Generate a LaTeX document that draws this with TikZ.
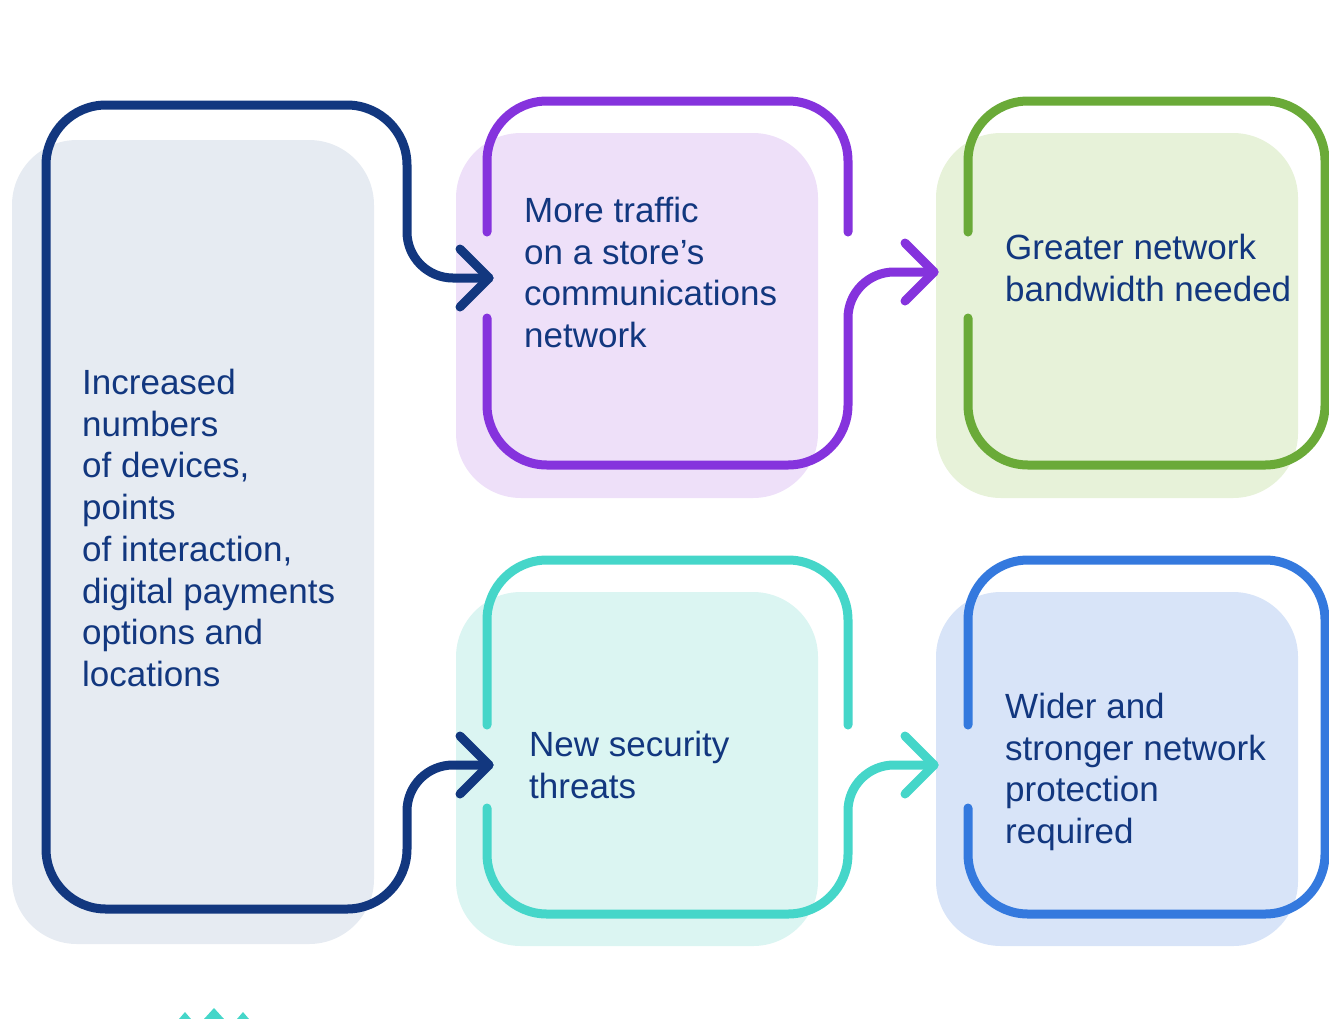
\documentclass[tikz,border=0pt]{standalone}
\usepackage{fontspec}
\setmainfont{Liberation Sans}
\definecolor{navy}{HTML}{12377F}
\definecolor{slatefill}{HTML}{E6EBF2}
\definecolor{purpleline}{HTML}{8533DD}
\definecolor{purplefill}{HTML}{EEE0F9}
\definecolor{greenline}{HTML}{6AAA38}
\definecolor{greenfill}{HTML}{E7F2D9}
\definecolor{tealline}{HTML}{45D6C9}
\definecolor{tealfill}{HTML}{DBF5F2}
\definecolor{blueline}{HTML}{3479DE}
\definecolor{bluefill}{HTML}{D8E4F8}
\begin{document}
\begin{tikzpicture}[x=1pt,y=-1pt,
  outline/.style={line width=9pt, line cap=round, line join=round},
  card/.style={rounded corners=65pt},
  label/.style={anchor=north west, inner sep=0pt, align=left, text=navy,
                font=\fontsize{35}{41.7}\selectfont},
]
\useasboundingbox (0,0) rectangle (1329,1018);
\clip (0,0) rectangle (1329,1018);

% soft background cards
\fill[slatefill,  card] (12,140)  rectangle (374,944);
\fill[purplefill, card] (456,133) rectangle (818,498);
\fill[greenfill,  card] (936,133) rectangle (1298,498);
\fill[tealfill,   card] (456,592) rectangle (818,946);
\fill[bluefill,   card] (936,592) rectangle (1298,946);

% arrow tips
\coordinate (tipA) at (489,278);
\coordinate (tipB) at (489,765);
\coordinate (tipC) at (934,272);
\coordinate (tipD) at (934,765);

% left frame, opening into two arrows
\draw[outline, navy] (tipA) -- (453,278) arc[start angle=90,end angle=180,radius=46]
  -- (407,165) arc[start angle=0,end angle=-90,radius=60]
  -- (106,105) arc[start angle=270,end angle=180,radius=60]
  -- (46,849) arc[start angle=180,end angle=90,radius=60]
  -- (347,909) arc[start angle=90,end angle=0,radius=60]
  -- (407,811) arc[start angle=180,end angle=270,radius=46] -- (tipB);
\draw[outline, navy] ([shift={(-29,-29)}]tipA) -- (tipA) -- ([shift={(-29,29)}]tipA);
\draw[outline, navy] ([shift={(-29,-29)}]tipB) -- (tipB) -- ([shift={(-29,29)}]tipB);

% purple frame
\draw[outline, purpleline] (487,232) -- (487,161) arc[start angle=180,end angle=270,radius=60]
  -- (788,101) arc[start angle=270,end angle=360,radius=60] -- (848,232);
\draw[outline, purpleline] (487,318) -- (487,405) arc[start angle=180,end angle=90,radius=60]
  -- (788,465) arc[start angle=90,end angle=0,radius=60]
  -- (848,318) arc[start angle=180,end angle=270,radius=46] -- (tipC);
\draw[outline, purpleline] ([shift={(-29,-29)}]tipC) -- (tipC) -- ([shift={(-29,29)}]tipC);

% green frame
\draw[outline, greenline] (968,232) -- (968,161) arc[start angle=180,end angle=270,radius=60]
  -- (1265,101) arc[start angle=270,end angle=360,radius=60]
  -- (1325,405) arc[start angle=0,end angle=90,radius=60]
  -- (1028,465) arc[start angle=90,end angle=180,radius=60] -- (968,318);

% teal frame
\draw[outline, tealline] (487,725) -- (487,620) arc[start angle=180,end angle=270,radius=60]
  -- (788,560) arc[start angle=270,end angle=360,radius=60] -- (848,725);
\draw[outline, tealline] (487,808) -- (487,854) arc[start angle=180,end angle=90,radius=60]
  -- (788,914) arc[start angle=90,end angle=0,radius=60]
  -- (848,811) arc[start angle=180,end angle=270,radius=46] -- (tipD);
\draw[outline, tealline] ([shift={(-29,-29)}]tipD) -- (tipD) -- ([shift={(-29,29)}]tipD);

% blue frame
\draw[outline, blueline] (968,725) -- (968,620) arc[start angle=180,end angle=270,radius=60]
  -- (1265,560) arc[start angle=270,end angle=360,radius=60]
  -- (1325,854) arc[start angle=0,end angle=90,radius=60]
  -- (1028,914) arc[start angle=90,end angle=180,radius=60] -- (968,808);

% texts
\node[label] (cause) at (82,369) {Increased\\numbers\\of devices,\\points\\of interaction,\\digital payments\\options and\\locations};
\node[label] (traffic) at (524,197) {More traffic\\on a store’s\\communications\\network};
\node[label] (bandwidth) at (1005,234) {Greater network\\bandwidth needed};
\node[label] (threats) at (529,731) {New security\\threats};
\node[label] (protection) at (1005,693) {Wider and\\stronger network\\protection\\required};

% small ornament at the lower edge
\fill[tealline] (179,1019) -- (185,1012) -- (191,1019) -- cycle;
\fill[tealline] (204,1019) -- (214,1008) -- (224,1019) -- cycle;
\fill[tealline] (237,1019) -- (243,1012) -- (249,1019) -- cycle;
\end{tikzpicture}
\end{document}
